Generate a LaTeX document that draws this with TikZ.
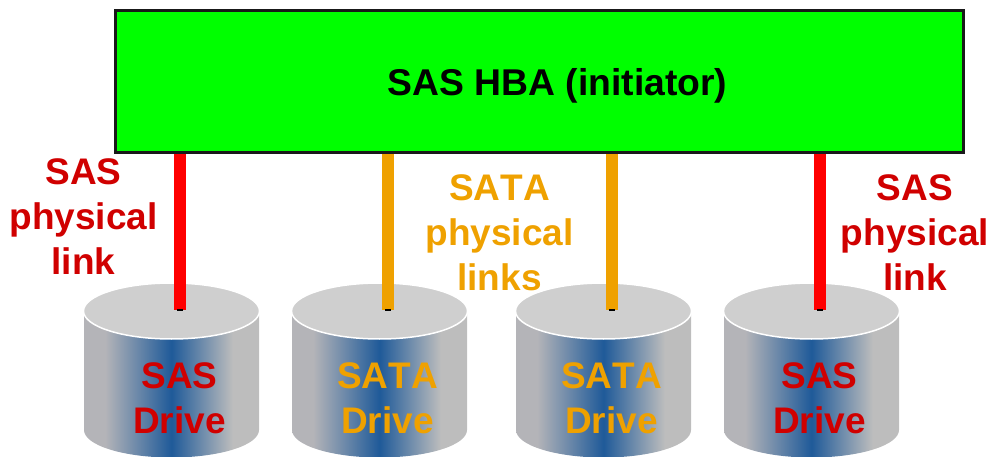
\documentclass[tikz,border=0pt]{standalone}
\usepackage{fontspec}
\setmainfont[Kerning=Off]{Liberation Sans}
\definecolor{labred}{HTML}{D00000}
\definecolor{laborange}{HTML}{EFA100}
\definecolor{diskblue}{HTML}{1F5A99}
\definecolor{diskleft}{HTML}{B4B4B8}
\definecolor{diskright}{HTML}{BDBDBD}
\definecolor{disktop}{HTML}{CFCFCF}
\pgfdeclarehorizontalshading{diskshade}{100bp}{
  color(0bp)=(diskleft);
  color(31bp)=(diskleft);
  color(50bp)=(diskblue);
  color(67.5bp)=(diskright);
  color(100bp)=(diskright)}
\tikzset{
  x=1pt,y=-1pt,
  hbabox/.style={draw=black!90,line width=3pt,fill=green,minimum width=848pt,minimum height=142pt,inner sep=0pt},
  lab/.style={align=center,inner sep=0pt,font=\fontsize{37}{45}\selectfont\bfseries},
  sasl/.style={lab,text=labred},
  satal/.style={lab,text=laborange},
  linkred/.style={line width=12pt,draw=red},
  linkorange/.style={line width=12pt,draw=laborange},
  tick/.style={line width=1.2pt,draw=black},
  disktopst/.style={fill=disktop,draw=white,line width=1.5pt},
}
\newcommand{\diskdraw}[1]{%
  \shade[shading=diskshade] (#1-87.5,310) -- (#1-87.5,430) arc[start angle=180,end angle=360,x radius=87.5pt,y radius=27.5pt] -- (#1+87.5,310) -- cycle;
  \path[disktopst] (#1,311) ellipse[x radius=88pt,y radius=28pt];
}
\begin{document}
\begin{tikzpicture}
\useasboundingbox (0,0) rectangle (991,457);
\clip (0,0) rectangle (991,457);
\diskdraw{171.5}
\diskdraw{379.5}
\diskdraw{603.5}
\diskdraw{811.5}
\coordinate (t1) at (180,310);
\coordinate (t2) at (388,310);
\coordinate (t3) at (612,310);
\coordinate (t4) at (820,310);
\node[hbabox] (hba) at (539.5,82) {};
\node[lab,text=black,font=\fontsize{37.3}{45}\selectfont\bfseries] (hbat) at (557.5,85.5) {SAS HBA (initiator)};
\draw[linkred] (hba.south -| t1) -- (t1);
\draw[linkorange] (hba.south -| t2) -- (t2);
\draw[linkorange] (hba.south -| t3) -- (t3);
\draw[linkred] (hba.south -| t4) -- (t4);
\draw[tick] ([xshift=-3pt]t1) -- ([xshift=3pt]t1);
\draw[tick] ([xshift=-3pt]t2) -- ([xshift=3pt]t2);
\draw[tick] ([xshift=-3pt]t3) -- ([xshift=3pt]t3);
\draw[tick] ([xshift=-3pt]t4) -- ([xshift=3pt]t4);
\node[sasl] (l1) at (83.5,216.5) {SAS\\physical\\link};
\node[satal] (l2) at (499.5,232.5) {SATA\\physical\\links};
\node[sasl] (l3) at (915,232.5) {SAS\\physical\\link};
\node[sasl] (d1) at (179.5,398.5) {SAS\\Drive};
\node[satal] (d2) at (387.5,398.5) {SATA\\Drive};
\node[satal] (d3) at (611.5,398.5) {SATA\\Drive};
\node[sasl] (d4) at (819.5,398.5) {SAS\\Drive};
\end{tikzpicture}
\end{document}
